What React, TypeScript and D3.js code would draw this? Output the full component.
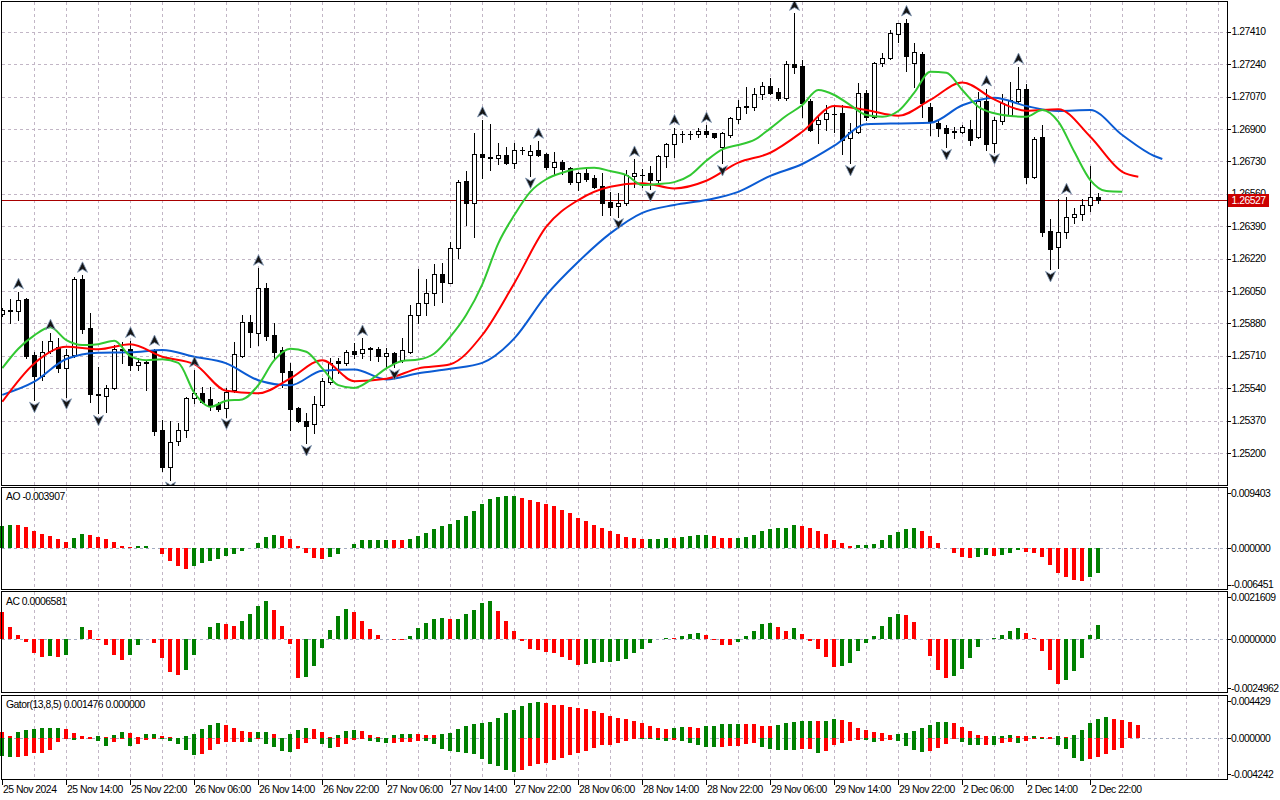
import * as d3 from 'd3';

// ---- candles: GBPUSD H1, bar 0 = 25 Nov 06:00 ----
const OPEN = [
  1.25931, 1.25948, 1.25944, 1.26008, 1.25712, 1.25605, 1.25736, 1.25757, 1.25644, 1.25712,
  1.26111, 1.25854, 1.25508, 1.255, 1.25539, 1.25745, 1.25745, 1.25664, 1.25671, 1.2574,
  1.2532, 1.25128, 1.25264, 1.2532, 1.25486, 1.25516, 1.25483, 1.25457, 1.25434, 1.2553,
  1.25708, 1.25888, 1.25831, 1.26064, 1.25819, 1.2574, 1.25631, 1.25434, 1.25369, 1.25352,
  1.25451, 1.25572, 1.2568, 1.2567, 1.25735, 1.25723, 1.2575, 1.25744, 1.25708, 1.25723,
  1.25687, 1.25731, 1.25922, 1.25985, 1.26037, 1.26137, 1.26093, 1.26273, 1.26628, 1.26513,
  1.26768, 1.26754, 1.26746, 1.26761, 1.26723, 1.26789, 1.26761, 1.26789, 1.26768, 1.26702,
  1.26725, 1.26693, 1.26623, 1.26667, 1.26641, 1.266, 1.26516, 1.26495, 1.2651, 1.26653,
  1.26658, 1.26667, 1.26632, 1.26758, 1.26821, 1.26873, 1.26871, 1.26873, 1.26891, 1.26877,
  1.26807, 1.26868, 1.26952, 1.27017, 1.27017, 1.27083, 1.27127, 1.27094, 1.27061, 1.27241,
  1.2723, 1.27048, 1.26926, 1.2695, 1.26978, 1.26982, 1.26851, 1.26885, 1.27087, 1.26961,
  1.27244, 1.2727, 1.27398, 1.27457, 1.27244, 1.27293, 1.27017, 1.26933, 1.26903, 1.26887,
  1.26885, 1.26897, 1.26856, 1.27048, 1.26824, 1.26943, 1.26973, 1.27048, 1.27108, 1.26649,
  1.26856, 1.26364, 1.26279, 1.26358, 1.26439, 1.26453, 1.26501, 1.26541,
];
const HIGH = [
  1.2596, 1.26006, 1.26046, 1.26013, 1.25729, 1.25789, 1.25831, 1.25801, 1.25744, 1.26125,
  1.26132, 1.25932, 1.25652, 1.25556, 1.25766, 1.25783, 1.2579, 1.25696, 1.25687, 1.25748,
  1.25373, 1.25367, 1.25355, 1.25495, 1.25635, 1.25547, 1.25547, 1.25469, 1.25539, 1.25783,
  1.25924, 1.25924, 1.26169, 1.2609, 1.2588, 1.25757, 1.2567, 1.25442, 1.25408, 1.25499,
  1.25591, 1.25698, 1.25696, 1.2574, 1.25778, 1.25801, 1.25757, 1.25757, 1.25752, 1.25731,
  1.25801, 1.25976, 1.26163, 1.26111, 1.26191, 1.26195, 1.26308, 1.26632, 1.26681, 1.2688,
  1.26947, 1.26925, 1.26824, 1.26807, 1.26824, 1.26803, 1.26816, 1.26835, 1.26775, 1.2678,
  1.26737, 1.26698, 1.26675, 1.26693, 1.26658, 1.2667, 1.2657, 1.26562, 1.26684, 1.2674,
  1.26688, 1.26706, 1.26763, 1.26828, 1.26905, 1.26891, 1.26891, 1.26903, 1.26918, 1.2688,
  1.26885, 1.26964, 1.27052, 1.27118, 1.27113, 1.27148, 1.27165, 1.27113, 1.27258, 1.27506,
  1.27262, 1.27055, 1.26964, 1.27025, 1.2702, 1.27025, 1.26933, 1.27139, 1.27104, 1.27253,
  1.27297, 1.27419, 1.27457, 1.27477, 1.27349, 1.27305, 1.27034, 1.26947, 1.2692, 1.26912,
  1.2692, 1.26947, 1.27095, 1.2711, 1.26964, 1.27083, 1.27148, 1.27227, 1.27136, 1.26857,
  1.2692, 1.26426, 1.26531, 1.26544, 1.26483, 1.26531, 1.26705, 1.26565,
];
const LOW = [
  1.2592, 1.25883, 1.25897, 1.25698, 1.25477, 1.25582, 1.25723, 1.25626, 1.25495, 1.25703,
  1.25827, 1.25469, 1.25408, 1.25416, 1.25534, 1.25671, 1.25635, 1.25635, 1.2553, 1.25294,
  1.25107, 1.25058, 1.25241, 1.25285, 1.2546, 1.2546, 1.25425, 1.2542, 1.2539, 1.25521,
  1.25705, 1.25757, 1.25766, 1.25792, 1.25687, 1.25547, 1.2532, 1.25364, 1.2525, 1.25306,
  1.25442, 1.25561, 1.25618, 1.25661, 1.25696, 1.25696, 1.25687, 1.25684, 1.25652, 1.25649,
  1.25679, 1.25723, 1.2588, 1.25924, 1.25976, 1.25993, 1.2609, 1.26221, 1.26396, 1.26331,
  1.26641, 1.26684, 1.26716, 1.26716, 1.26693, 1.26768, 1.26653, 1.26758, 1.26688, 1.26663,
  1.26663, 1.26611, 1.26579, 1.26628, 1.26588, 1.26448, 1.26448, 1.2644, 1.26501, 1.26597,
  1.26597, 1.26585, 1.26623, 1.26702, 1.26754, 1.26833, 1.26845, 1.26859, 1.26859, 1.26854,
  1.26719, 1.26859, 1.26929, 1.26982, 1.26999, 1.27055, 1.27083, 1.27052, 1.27052, 1.27192,
  1.26964, 1.26891, 1.26824, 1.26894, 1.26885, 1.26768, 1.26719, 1.2688, 1.26947, 1.26956,
  1.27232, 1.27265, 1.27357, 1.27205, 1.27121, 1.26961, 1.26868, 1.26863, 1.26803, 1.26851,
  1.26877, 1.26816, 1.26851, 1.26789, 1.2678, 1.26926, 1.26968, 1.27043, 1.26618, 1.2664,
  1.26338, 1.26163, 1.26169, 1.26326, 1.26408, 1.26422, 1.26469, 1.26512,
];
const CLOSE = [
  1.2595, 1.25943, 1.26002, 1.25708, 1.25605, 1.25731, 1.25787, 1.25644, 1.25712, 1.26111,
  1.25852, 1.25508, 1.25504, 1.25542, 1.25744, 1.2574, 1.25661, 1.25677, 1.25677, 1.25315,
  1.25128, 1.25259, 1.2532, 1.25486, 1.25516, 1.25468, 1.25451, 1.2543, 1.25521, 1.25717,
  1.25888, 1.25836, 1.26064, 1.25813, 1.25731, 1.25626, 1.2543, 1.25369, 1.25343, 1.25457,
  1.25577, 1.25671, 1.2567, 1.25731, 1.25719, 1.25745, 1.25748, 1.25708, 1.25723, 1.2567,
  1.2574, 1.25922, 1.25985, 1.26037, 1.26137, 1.26098, 1.26273, 1.26623, 1.2651, 1.26767,
  1.26754, 1.26745, 1.26761, 1.26723, 1.26789, 1.26787, 1.26785, 1.26763, 1.26698, 1.26725,
  1.26688, 1.26623, 1.26667, 1.26635, 1.26597, 1.2651, 1.26492, 1.2651, 1.26657, 1.26667,
  1.2666, 1.26632, 1.26758, 1.26821, 1.26873, 1.26871, 1.26873, 1.26891, 1.26873, 1.26859,
  1.26877, 1.26956, 1.27017, 1.27019, 1.27081, 1.27127, 1.2709, 1.27061, 1.27239, 1.27226,
  1.27037, 1.26894, 1.26947, 1.26982, 1.2698, 1.26842, 1.26885, 1.27087, 1.26961, 1.27244,
  1.2727, 1.27402, 1.27454, 1.27282, 1.27302, 1.27034, 1.26938, 1.26903, 1.2688, 1.26885,
  1.26908, 1.2684, 1.27046, 1.26821, 1.26947, 1.27034, 1.27052, 1.27108, 1.26649, 1.26849,
  1.26361, 1.2627, 1.26359, 1.26436, 1.26453, 1.26501, 1.26541, 1.26527,
];
const LAST_PRICE = 1.26527;

// ---- alligator (already shifted forward), sampled at the listed bars ----
const JAW = [
  1.25505, 1.25574, 1.25693, 1.25726, 1.25728, 1.2574, 1.25705, 1.2567, 1.25582, 1.25555,
  1.25632, 1.25638, 1.25586, 1.25618, 1.25642, 1.25673, 1.25801, 1.26028, 1.26203, 1.26352,
  1.2646, 1.26501, 1.26527, 1.2657, 1.26654, 1.26716, 1.26812, 1.26924, 1.26929, 1.26932,
  1.27024, 1.27064, 1.2702, 1.26994, 1.26999, 1.26868, 1.26758, 1.26742,
];
const TEETH = [
  1.25469, 1.2567, 1.25757, 1.25744, 1.2577, 1.25705, 1.25666, 1.25526, 1.25513, 1.25591,
  1.25687, 1.25577, 1.25589, 1.25644, 1.25666, 1.25819, 1.26091, 1.26387, 1.26527, 1.26597,
  1.26615, 1.26588, 1.26628, 1.26723, 1.26775, 1.26885, 1.2702, 1.26999, 1.26969, 1.27052,
  1.27144, 1.27055, 1.26995, 1.27003, 1.26859, 1.26675, 1.26649,
];
const LIPS = [
  1.25645, 1.25747, 1.25817, 1.25859, 1.25792, 1.25766, 1.25771, 1.25789, 1.25708, 1.25687,
  1.25692, 1.25673, 1.25516, 1.25442, 1.25474, 1.25481, 1.25556, 1.25687, 1.25747, 1.25731,
  1.25644, 1.25556, 1.25541, 1.25582, 1.25644, 1.25683, 1.2569, 1.25722, 1.2581, 1.25925,
  1.26085, 1.263, 1.26448, 1.2657, 1.26636, 1.2667, 1.26691, 1.26696, 1.26679, 1.26658,
  1.26606, 1.26611, 1.26621, 1.26658, 1.26733, 1.26793, 1.26816, 1.26842, 1.26903, 1.26969,
  1.27025, 1.27104, 1.27078, 1.27025, 1.26973, 1.26964, 1.26994, 1.2709, 1.272, 1.27195,
  1.27104, 1.27016, 1.26982, 1.26968, 1.26964, 1.26999, 1.26938, 1.2678, 1.26632, 1.26574,
  1.2657,
];

const UP_FRACTALS = [2, 6, 10, 16, 19, 24, 32, 45, 60, 67, 79, 84, 88, 99, 113, 123, 127, 133];
const DOWN_FRACTALS = [4, 8, 12, 21, 28, 38, 49, 66, 77, 81, 90, 106, 118, 124, 131];

// ---- oscillators ----
const AO = [
  0.00348, 0.00364, 0.00362, 0.00333, 0.00269, 0.00216, 0.0019, 0.00148, 0.00095, 0.00164,
  0.00216, 0.00206, 0.00174, 0.00148, 0.00095, 0.00032, 0.00016, 0.0003, 0.00033, 0.00002,
  -0.0009, -0.00206, -0.00285, -0.00327, -0.00285, -0.00232, -0.00206, -0.00169, -0.00127, -0.001,
  -0.00053, -0.00002, 0.00084, 0.00174, 0.00206, 0.0019, 0.00148, 0.00032, -0.00074, -0.00153,
  -0.00169, -0.00137, -0.0009, 0.00002, 0.00058, 0.00121, 0.00127, 0.00128, 0.00129, 0.00128,
  0.00127, 0.00143, 0.0019, 0.00243, 0.00306, 0.00348, 0.00385, 0.00444, 0.00507, 0.00586,
  0.00702, 0.00781, 0.00808, 0.00824, 0.00825, 0.00792, 0.0076, 0.00729, 0.00702, 0.00665,
  0.00602, 0.0056, 0.00475, 0.00428, 0.00364, 0.00317, 0.00269, 0.00222, 0.00174, 0.00158,
  0.00143, 0.00144, 0.00145, 0.00158, 0.00157, 0.00174, 0.0019, 0.00206, 0.00207, 0.0019,
  0.00158, 0.00157, 0.00159, 0.00174, 0.00206, 0.00269, 0.00301, 0.00317, 0.00318, 0.00364,
  0.00348, 0.00317, 0.00269, 0.00216, 0.00127, 0.00074, 0.00032, 0.00042, 0.00048, 0.00063,
  0.00127, 0.00206, 0.00253, 0.00301, 0.00317, 0.00269, 0.0019, 0.00079, -0.00005, -0.00074,
  -0.00143, -0.00158, -0.00137, -0.00116, -0.00127, -0.00111, -0.00074, -0.00037, -0.00058, -0.00074,
  -0.00137, -0.00264, -0.00391, -0.00454, -0.00502, -0.00523, -0.00454, -0.003907,
];
const AC = [
  0.00127, 0.00056, 0.00019, -0.00013, -0.00064, -0.00083, -0.00082, -0.00084, -0.00077, 0.00001,
  0.00056, 0.00042, -0.00003, -0.0003, -0.00074, -0.00097, -0.00074, -0.0003, -0.00001, -0.00017,
  -0.00092, -0.00154, -0.00168, -0.00144, -0.00077, 0.0, 0.00056, 0.00077, 0.00072, 0.00061,
  0.00085, 0.00116, 0.00155, 0.00179, 0.00136, 0.00061, -0.00022, -0.00182, -0.00177, -0.00127,
  -0.00041, 0.00042, 0.00108, 0.00139, 0.00127, 0.00085, 0.00045, 0.00019, -0.00002, -0.00003,
  -0.00005, 0.00014, 0.00052, 0.00077, 0.00094, 0.00099, 0.00094, 0.00095, 0.00118, 0.00136,
  0.00171, 0.00179, 0.00132, 0.00085, 0.00038, -0.00009, -0.00047, -0.00052, -0.00061, -0.00066,
  -0.00085, -0.00099, -0.00122, -0.00116, -0.00113, -0.00108, -0.00107, -0.00103, -0.00094, -0.00066,
  -0.00047, -0.00017, 0.00001, 0.00005, 0.00003, 0.00014, 0.00024, 0.00028, 0.00019, -0.00003,
  -0.00027, -0.00028, -0.00014, 0.00014, 0.00038, 0.00071, 0.00075, 0.00056, 0.00038, 0.00052,
  0.00024, -0.00009, -0.00047, -0.00085, -0.00132, -0.00127, -0.00111, -0.00056, -0.00017, 0.00014,
  0.00061, 0.00103, 0.00119, 0.00113, 0.0008, 0.0, -0.0008, -0.00144, -0.00183, -0.00174,
  -0.00141, -0.00089, -0.00038, -0.00002, 0.00005, 0.00019, 0.00038, 0.00052, 0.00028, 0.00005,
  -0.00056, -0.00146, -0.00212, -0.00193, -0.00149, -0.00089, 0.00019, 0.0006581,
];
const GATOR_UP = [
  0.00064, 0.00021, 0.00064, 0.00089, 0.001, 0.00111, 0.00112, 0.00113, 0.001, 0.00054,
  0.00021, 0.0002, 0.00022, 0.00011, 0.00032, 0.00064, 0.00054, 0.00011, 0.00043, 0.00045,
  0.00021, 0.00011, 0.00004, 0.00021, 0.00043, 0.00096, 0.00139, 0.00161, 0.00139, 0.00107,
  0.00075, 0.00064, 0.00065, 0.00066, 0.00043, 0.00002, 0.00043, 0.00086, 0.00107, 0.00096,
  0.00064, 0.00011, 0.00032, 0.00075, 0.00086, 0.00075, 0.00032, 0.00011, 0.00004, 0.00032,
  0.00043, 0.00044, 0.00043, 0.00032, 0.00031, 0.00043, 0.00057, 0.00096, 0.00132, 0.00154,
  0.00164, 0.00175, 0.00218, 0.00271, 0.00303, 0.00346, 0.00378, 0.00389, 0.00378, 0.00357,
  0.00356, 0.00336, 0.00325, 0.00314, 0.00293, 0.00271, 0.00239, 0.00218, 0.00207, 0.00186,
  0.00164, 0.00132, 0.00111, 0.001, 0.00111, 0.00121, 0.0012, 0.00111, 0.00132, 0.00133,
  0.00154, 0.00155, 0.00156, 0.00155, 0.00154, 0.00132, 0.00131, 0.00143, 0.00164, 0.00175,
  0.00186, 0.00187, 0.00186, 0.00187, 0.00207, 0.00196, 0.00175, 0.00111, 0.00089, 0.00068,
  0.00057, 0.00036, 0.00046, 0.00057, 0.00079, 0.00111, 0.00143, 0.00175, 0.00176, 0.00164,
  0.00121, 0.00079, 0.00036, 0.00025, 0.00026, 0.00027, 0.00036, 0.00025, 0.00024, 0.00025,
  0.00018, 0.00014, 0.00025, 0.0002, 0.00036, 0.00089, 0.00164, 0.00207, 0.00228, 0.00207,
  0.00196, 0.00175, 0.001476,
];
const GATOR_DOWN = [
  -0.00189, -0.00203, -0.00201, -0.00189, -0.00161, -0.0016, -0.00128, -0.00043, -0.00002, -0.00018,
  -0.00007, -0.00006, -0.00029, -0.00082, -0.00043, -0.00011, -0.00082, -0.00064, -0.00018, -0.00004,
  -0.00007, -0.00029, -0.00061, -0.00125, -0.00179, -0.00168, -0.00125, -0.00061, -0.00039, -0.00038,
  -0.00037, -0.00039, -0.00007, -0.00061, -0.00093, -0.00136, -0.00146, -0.00114, -0.0005, -0.00004,
  -0.00061, -0.00104, -0.00093, -0.00061, -0.00018, -0.00007, -0.00029, -0.00039, -0.0005, -0.00049,
  -0.00039, -0.00038, -0.00029, -0.00032, -0.00057, -0.00111, -0.00136, -0.00143, -0.00154, -0.00164,
  -0.00218, -0.00271, -0.00293, -0.00336, -0.00357, -0.00336, -0.003, -0.00271, -0.00261, -0.00232,
  -0.00207, -0.00182, -0.00154, -0.00132, -0.001, -0.00068, -0.00067, -0.00046, -0.00025, -0.00004,
  -0.00011, -0.00012, -0.00018, -0.00029, -0.00018, -0.00025, -0.00046, -0.00068, -0.00089, -0.0009,
  -0.00089, -0.00079, -0.00078, -0.00057, -0.00046, -0.00089, -0.00111, -0.00121, -0.00122, -0.00123,
  -0.00111, -0.0011, -0.00154, -0.00136, -0.00071, -0.0005, -0.00032, -0.00018, -0.0002, -0.00036,
  -0.00025, -0.00018, -0.00029, -0.00079, -0.00121, -0.00143, -0.00132, -0.001, -0.00057, -0.00004,
  -0.00036, -0.00068, -0.00069, -0.00068, -0.00069, -0.00046, -0.00036, -0.00046, -0.00025, -0.00011,
  -0.00012, -0.00004, -0.00068, -0.00111, -0.00207, -0.00239, -0.00218, -0.00196, -0.00164, -0.00121,
  -0.001,
];

// ---- axes ----
const PRICE_TICKS = [
  1.2741, 1.2724, 1.2707, 1.269, 1.2673, 1.2656, 1.2639, 1.2622, 1.2605, 1.2588, 1.2571, 1.2554,
  1.2537, 1.252,
];
const TIME_LABELS = [
  '25 Nov 2024', '25 Nov 14:00', '25 Nov 22:00', '26 Nov 06:00', '26 Nov 14:00', '26 Nov 22:00',
  '27 Nov 06:00', '27 Nov 14:00', '27 Nov 22:00', '28 Nov 06:00', '28 Nov 14:00', '28 Nov 22:00',
  '29 Nov 06:00', '29 Nov 14:00', '29 Nov 22:00', '2 Dec 06:00', '2 Dec 14:00', '2 Dec 22:00',
];
const AO_RANGE = [-0.006451, 0.009403];
const AC_RANGE = [-0.0024962, 0.0021609];
const GATOR_RANGE = [-0.004242, 0.004429];

const LEFT = 1.5;
const RIGHT = 1227.5;
const MAIN = { top: 1.5, bottom: 485.5 };
const AO_P = { top: 487.5, bottom: 589.5 };
const AC_P = { top: 591.5, bottom: 692.5 };
const GT_P = { top: 695.5, bottom: 779.5 };
const FONT = '"Liberation Sans", Arial, sans-serif';
const FS = 10.4;
const LS = -0.5;
const GREEN = '#008000';
const RED = '#ff0000';
const GRID = '#c2b6c6';

const x = d3.scaleLinear().domain([0, 150]).range([2.3, 2.3 + 150 * 8]);
const bx = (i: number) => Math.round(x(i));
const yMain = d3.scaleLinear().domain([1.252, 1.2741]).range([453, 31.7]);
const yAO = d3.scaleLinear().domain(AO_RANGE).range([588.5, 489]);
const yAC = d3.scaleLinear().domain(AC_RANGE).range([692, 593]);
const yGT = d3.scaleLinear().domain(GATOR_RANGE).range([778, 697]);

function Histogram({ values, y, firstUp, byAbs }: { values: number[]; y: d3.ScaleLinear<number, number>; firstUp: boolean; byAbs?: boolean }) {
  const zero = Math.round(y(0));
  return (
    <g shapeRendering="crispEdges">
      {values.map((v, i) => {
        const prev = values[i - 1];
        const up = i === 0 ? firstUp : byAbs ? Math.abs(v) > Math.abs(prev) : v > prev;
        const yv = Math.round(y(v));
        return (
          <rect key={i} x={bx(i) - 2} y={Math.min(yv, zero)} width={4} height={Math.abs(yv - zero)} fill={up ? GREEN : RED} />
        );
      })}
    </g>
  );
}

function SubAxis({ y, range, labels }: { y: d3.ScaleLinear<number, number>; range: number[]; labels: string[] }) {
  const pos = [y(range[1]) + 4, y(0), y(range[0]) - 4];
  return (
    <g>
      {pos.map((p, k) => (
        <g key={k}>
          <line x1={RIGHT} x2={RIGHT + 3} y1={Math.round(p) + 0.5} y2={Math.round(p) + 0.5} stroke="#000" shapeRendering="crispEdges" />
          <text x={1231} y={p} dy="0.35em" fontSize={FS} letterSpacing={LS} fontFamily={FONT} fill="#000">{labels[k]}</text>
        </g>
      ))}
    </g>
  );
}

export default function App() {
  const gridBars = d3.range(4, 153, 4);
  const jawBars = d3.range(0, 145, 4).concat([145]);
  const teethBars = d3.range(0, 141, 4).concat([142]);
  const lipsBars = d3.range(0, 141, 2);
  const pathOf = (bars: number[], vals: number[]) =>
    d3.line<number>().x((_, k) => x(bars[k])).y((v) => yMain(v)).curve(d3.curveMonotoneX)(vals) ?? '';
  const panels = [MAIN, AO_P, AC_P, GT_P];
  const lastY = Math.round(yMain(LAST_PRICE)) + 0.5;

  return (
    <div style={{ position: 'absolute', left: 0, top: 0, width: 1280, height: 800, background: '#fff' }}>
      <svg width={1280} height={800} viewBox="0 0 1280 800">
        <defs>
          <clipPath id="mainClip">
            <rect x={LEFT} y={MAIN.top} width={RIGHT - LEFT} height={MAIN.bottom - MAIN.top} />
          </clipPath>
        </defs>
        <rect width={1280} height={800} fill="#fff" />

        {/* grid */}
        <g stroke={GRID} strokeDasharray="3 3" shapeRendering="crispEdges">
          {panels.map((p, k) =>
            gridBars.map((i) => (
              <line key={`${k}-${i}`} x1={bx(i) + 0.5} x2={bx(i) + 0.5} y1={p.top} y2={p.bottom} />
            ))
          )}
          {PRICE_TICKS.map((t) => (
            <line key={t} x1={LEFT} x2={RIGHT} y1={Math.round(yMain(t)) + 0.5} y2={Math.round(yMain(t)) + 0.5} />
          ))}
        </g>
        <g stroke="#a4acc0" strokeDasharray="3 3" shapeRendering="crispEdges">
          {[yAO, yAC, yGT].map((y, k) => (
            <line key={k} x1={LEFT} x2={RIGHT} y1={Math.round(y(0)) + 0.5} y2={Math.round(y(0)) + 0.5} />
          ))}
        </g>

        {/* main chart */}
        <g clipPath="url(#mainClip)">
          <line x1={LEFT} x2={RIGHT} y1={lastY} y2={lastY} stroke="#a80000" shapeRendering="crispEdges" />
          <g shapeRendering="crispEdges">
            {OPEN.map((o, i) => {
              const c = CLOSE[i];
              const b = bx(i);
              const yTop = Math.round(yMain(Math.max(o, c))) + 0.5;
              const yBot = Math.round(yMain(Math.min(o, c))) + 0.5;
              return (
                <g key={i}>
                  <line x1={b + 0.5} x2={b + 0.5} y1={Math.round(yMain(HIGH[i]))} y2={Math.round(yMain(LOW[i])) + 1} stroke="#000" />
                  {yBot - yTop < 1 ? (
                    <line x1={b - 2} x2={b + 3} y1={yTop} y2={yTop} stroke="#000" />
                  ) : (
                    <rect x={b - 1.5} y={yTop} width={4} height={yBot - yTop} fill={c >= o ? '#fff' : '#000'} stroke="#000" />
                  )}
                </g>
              );
            })}
          </g>
          <g fill="none" strokeWidth={2} strokeLinejoin="round">
            <path d={pathOf(jawBars, JAW)} stroke="#0b5bd3" />
            <path d={pathOf(teethBars, TEETH)} stroke="#ff0000" />
            <path d={pathOf(lipsBars, LIPS)} stroke="#32c832" />
          </g>
          <g fill="#151515" stroke="#7d96b4" strokeWidth={0.8}>
            {UP_FRACTALS.map((i) => {
              const cx = bx(i) + 0.5;
              const cy = yMain(HIGH[i]) - 8;
              return <path key={i} d={`M${cx},${cy - 5.5}L${cx + 5},${cy + 5}L${cx},${cy + 2}L${cx - 5},${cy + 5}Z`} />;
            })}
            {DOWN_FRACTALS.map((i) => {
              const cx = bx(i) + 0.5;
              const cy = yMain(LOW[i]) + 7;
              return <path key={i} d={`M${cx},${cy + 5.5}L${cx + 5},${cy - 5}L${cx},${cy - 2}L${cx - 5},${cy - 5}Z`} />;
            })}
          </g>
        </g>

        {/* oscillators */}
        <Histogram values={AO} y={yAO} firstUp />
        <Histogram values={AC} y={yAC} firstUp={false} />
        <Histogram values={GATOR_UP} y={yGT} firstUp={false} byAbs />
        <Histogram values={GATOR_DOWN} y={yGT} firstUp byAbs />

        {/* frames */}
        <g fill="none" stroke="#000" shapeRendering="crispEdges">
          {panels.map((p, k) => (
            <rect key={k} x={LEFT} y={p.top} width={RIGHT - LEFT} height={p.bottom - p.top} />
          ))}
        </g>

        {/* panel captions */}
        <g fontFamily={FONT} fontSize={FS} letterSpacing={LS} fill="#000">
          <text x={6} y={500}>AO -0.003907</text>
          <text x={6} y={604.5}>AC 0.0006581</text>
          <text x={6} y={707.5}>Gator(13,8,5) 0.001476 0.000000</text>
        </g>

        {/* price axis */}
        <g fontFamily={FONT} fontSize={FS} letterSpacing={LS} fill="#000">
          {PRICE_TICKS.map((t) => (
            <g key={t}>
              <line x1={RIGHT} x2={RIGHT + 3} y1={Math.round(yMain(t)) + 0.5} y2={Math.round(yMain(t)) + 0.5} stroke="#000" shapeRendering="crispEdges" />
              <text x={1231.5} y={yMain(t)} dy="0.35em">{t.toFixed(5)}</text>
            </g>
          ))}
        </g>
        <rect x={1228} y={lastY - 6.5} width={41} height={13} fill="#cc0000" />
        <text x={1231.5} y={lastY} dy="0.35em" fontFamily={FONT} fontSize={FS} letterSpacing={LS} fill="#fff">{LAST_PRICE.toFixed(5)}</text>

        <SubAxis y={yAO} range={AO_RANGE} labels={['0.009403', '0.000000', '-0.006451']} />
        <SubAxis y={yAC} range={AC_RANGE} labels={['0.0021609', '0.0000000', '-0.0024962']} />
        <SubAxis y={yGT} range={GATOR_RANGE} labels={['0.004429', '0.000000', '-0.004242']} />

        {/* time axis */}
        <g fontFamily={FONT} fontSize={FS} letterSpacing={LS} fill="#000">
          {TIME_LABELS.map((s, k) => {
            const b = bx(k * 8);
            return (
              <g key={s}>
                <line x1={b + 0.5} x2={b + 0.5} y1={GT_P.bottom} y2={GT_P.bottom + 5} stroke="#000" shapeRendering="crispEdges" />
                <text x={b + 1} y={792.5}>{s}</text>
              </g>
            );
          })}
        </g>
      </svg>
    </div>
  );
}
